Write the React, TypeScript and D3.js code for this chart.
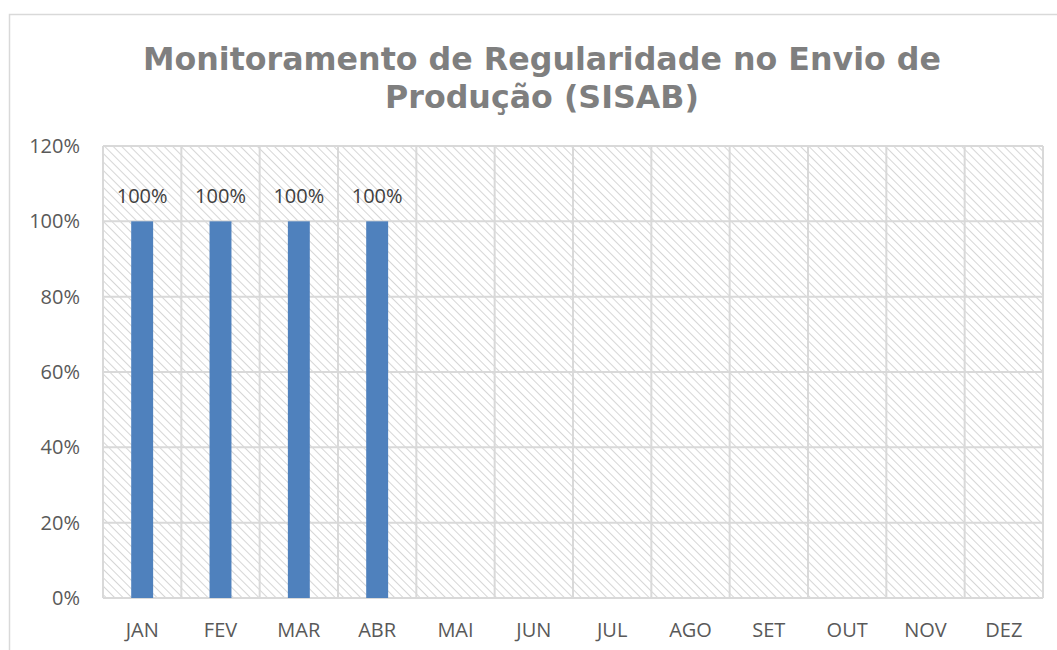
import React from "react";
import * as d3 from "d3";

const months = ["JAN","FEV","MAR","ABR","MAI","JUN","JUL","AGO","SET","OUT","NOV","DEZ"];
const values: (number | null)[] = [1, 1, 1, 1, null, null, null, null, null, null, null, null];
const yTicks = [0, 0.2, 0.4, 0.6, 0.8, 1.0, 1.2];
const titleLines = ["Monitoramento de Regularidade no Envio de", "Produção (SISAB)"];

const W = 1057, H = 650;
const plot = { left: 103, top: 146, right: 1043, bottom: 598 };

export default function App() {
  const x = d3.scaleBand<string>().domain(months).range([plot.left, plot.right]).paddingInner(0).paddingOuter(0);
  const y = d3.scaleLinear().domain([0, 1.2]).range([plot.bottom, plot.top]);
  const barW = x.bandwidth() * 0.28;
  const fmt = d3.format(".0%");
  const labelFont = "'Open Sans', Lato, sans-serif";
  return (
    <svg width={W} height={H} style={{ position: "absolute", left: 0, top: 0 }}>
      <defs>
        <pattern id="hatch" patternUnits="userSpaceOnUse" width="6" height="6" patternTransform="rotate(-45)">
          <rect width="6" height="6" fill="#ffffff" />
          <line x1="0" y1="0" x2="0" y2="6" stroke="#d6d6d6" strokeWidth="2" />
        </pattern>
      </defs>
      <rect x={0} y={0} width={W} height={H} fill="#fff" />
      <rect x={9.5} y={14.5} width={W + 10} height={H} fill="#fff" stroke="#d9d9d9" strokeWidth={1.5} />
      {titleLines.map((t, i) => (
        <text key={i} x={542} y={70 + i * 38} textAnchor="middle"
          style={{ font: "bold 31.7px 'DejaVu Sans', Verdana, sans-serif", fill: "#7f7f7f" }}>{t}</text>
      ))}
      <rect x={plot.left} y={plot.top} width={plot.right - plot.left} height={plot.bottom - plot.top} fill="url(#hatch)" />
      {yTicks.map((t) => (
        <line key={"g" + t} x1={plot.left} x2={plot.right} y1={y(t)} y2={y(t)} stroke="#d9d9d9" strokeWidth={2} />
      ))}
      {months.map((m) => (
        <line key={"v" + m} x1={x(m)!} x2={x(m)!} y1={plot.top} y2={plot.bottom} stroke="#d9d9d9" strokeWidth={2} />
      ))}
      <line x1={plot.right} x2={plot.right} y1={plot.top} y2={plot.bottom} stroke="#d9d9d9" strokeWidth={2} />
      {yTicks.map((t) => (
        <text key={"yl" + t} x={80} y={y(t)} dy="0.35em" textAnchor="end"
          style={{ font: `20px ${labelFont}`, fill: "#595959" }}>{fmt(t)}</text>
      ))}
      {months.map((m, i) => {
        const v = values[i];
        if (v == null) return null;
        const cx = x(m)! + x.bandwidth() / 2;
        return (
          <g key={"b" + m}>
            <rect x={cx - barW / 2} y={y(v)} width={barW} height={plot.bottom - y(v)} fill="#4f81bd" />
            <text x={cx} y={y(v) - 18} textAnchor="middle"
              style={{ font: `20px ${labelFont}`, fill: "#404040" }}>{fmt(v)}</text>
          </g>
        );
      })}
      {months.map((m) => (
        <text key={"xl" + m} x={x(m)! + x.bandwidth() / 2} y={637} textAnchor="middle"
          style={{ font: `20px ${labelFont}`, fill: "#595959" }}>{m}</text>
      ))}
    </svg>
  );
}
